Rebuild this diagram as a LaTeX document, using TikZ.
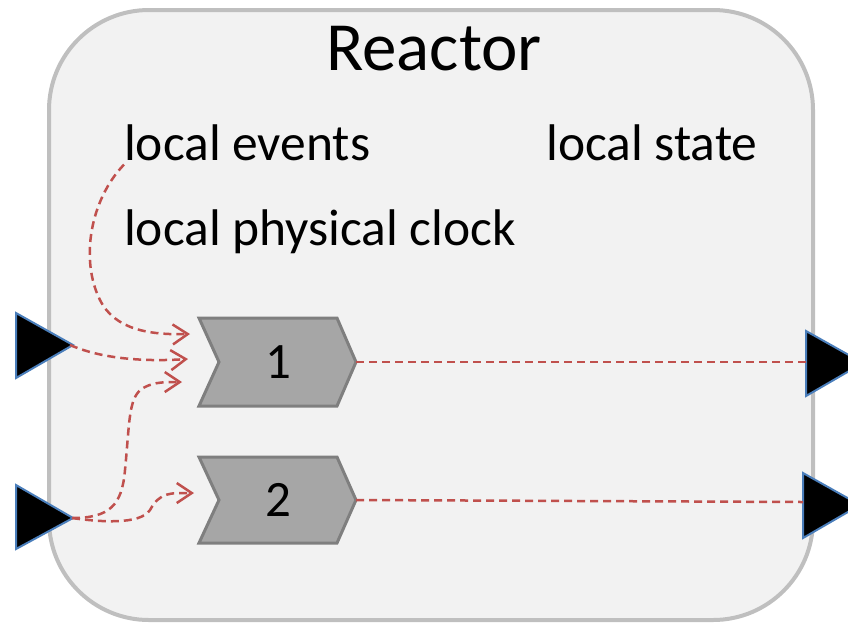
\documentclass[tikz,border=0pt]{standalone}
\usepackage{fontspec}
\setmainfont{Carlito}
\usetikzlibrary{arrows.meta}
\definecolor{boxfill}{HTML}{F2F2F2}
\definecolor{boxline}{HTML}{BFBFBF}
\definecolor{chevfill}{HTML}{A6A6A6}
\definecolor{chevline}{HTML}{7F7F7F}
\definecolor{flow}{HTML}{C0504D}
\definecolor{portline}{HTML}{4A7EBB}
\tikzset{
  reactorbox/.style={draw=boxline, fill=boxfill, line width=4pt, rounded corners=100pt},
  chev/.style={draw=chevline, fill=chevfill, line width=3pt, line join=miter},
  port/.style={draw=portline, fill=black, line width=2pt, line join=miter},
  label/.style={anchor=base west, inner sep=0pt, font=\fontsize{51.5}{52}\selectfont},
  num/.style={inner sep=0pt, font=\fontsize{51}{51}\selectfont},
  dep/.style={draw=flow, line width=2.5pt, dash pattern=on 8pt off 5pt,
              -{Straight Barb[length=15pt,width=20pt,line width=2.5pt]}},
  link/.style={draw=flow, line width=2.5pt, dash pattern=on 8pt off 5pt}
}
\begin{document}
\begin{tikzpicture}[x=1pt,y=-1pt]
\useasboundingbox (0,0) rectangle (848,622);

% reactor body
\draw[reactorbox] (49,10) rectangle (813,620);

\node[anchor=base, inner sep=0pt, font=\fontsize{69}{69}\selectfont] (title) at (434,70) {Reactor};

\node[label] (events) at (124,160) {local events};
\node[label] (state) at (546,160) {local state};
\node[label] (clock) at (124,245) {local physical clock};

% reactions
\draw[chev] (199,318) -- (337,318) -- (356,362) -- (337,406) -- (199,406) -- (219,362) -- cycle;
\node[num] (r1) at (278,362) {1};
\coordinate (r1out) at (356,362);
\draw[chev] (199,457) -- (337,457) -- (356,500) -- (337,543) -- (199,543) -- (219,500) -- cycle;
\node[num] (r2) at (278,500) {2};
\coordinate (r2out) at (356,500);

% input ports
\draw[port] (16,313) -- (73,345) -- (16,378) -- cycle;
\coordinate (in1) at (70,345);
\draw[port] (16,485) -- (73,518) -- (16,549) -- cycle;
\coordinate (in2) at (72,518);

% output ports
\draw[port] (806,331) -- (863,363) -- (806,396) -- cycle;
\coordinate (out1) at (806,362);
\draw[port] (803,473) -- (860,505) -- (803,538) -- cycle;
\coordinate (out2) at (803,502);

% trigger targets
\coordinate (t1) at (190,334);
\coordinate (t2) at (188,359);
\coordinate (t3) at (182,382);
\coordinate (t4) at (194,493);

% dependencies
\draw[dep] (events.south west) ++(0,4) .. controls (90,200) and (80,260) .. (100,300)
   .. controls (115,330) and (150,335) .. (t1);
\draw[dep] (in1) .. controls (100,358) and (140,362) .. (t2);
\draw[dep] (in2) .. controls (110,518) and (122,505) .. (125,470)
   .. controls (130,420) and (128,395) .. (145,387) .. controls (155,382) and (165,382) .. (t3);
\draw[dep] (in2) .. controls (100,522) and (140,525) .. (150,510)
   .. controls (160,492) and (170,493) .. (t4);
\draw[link] (r1out) -- (out1);
\draw[link] (r2out) -- (out2);
\end{tikzpicture}
\end{document}
